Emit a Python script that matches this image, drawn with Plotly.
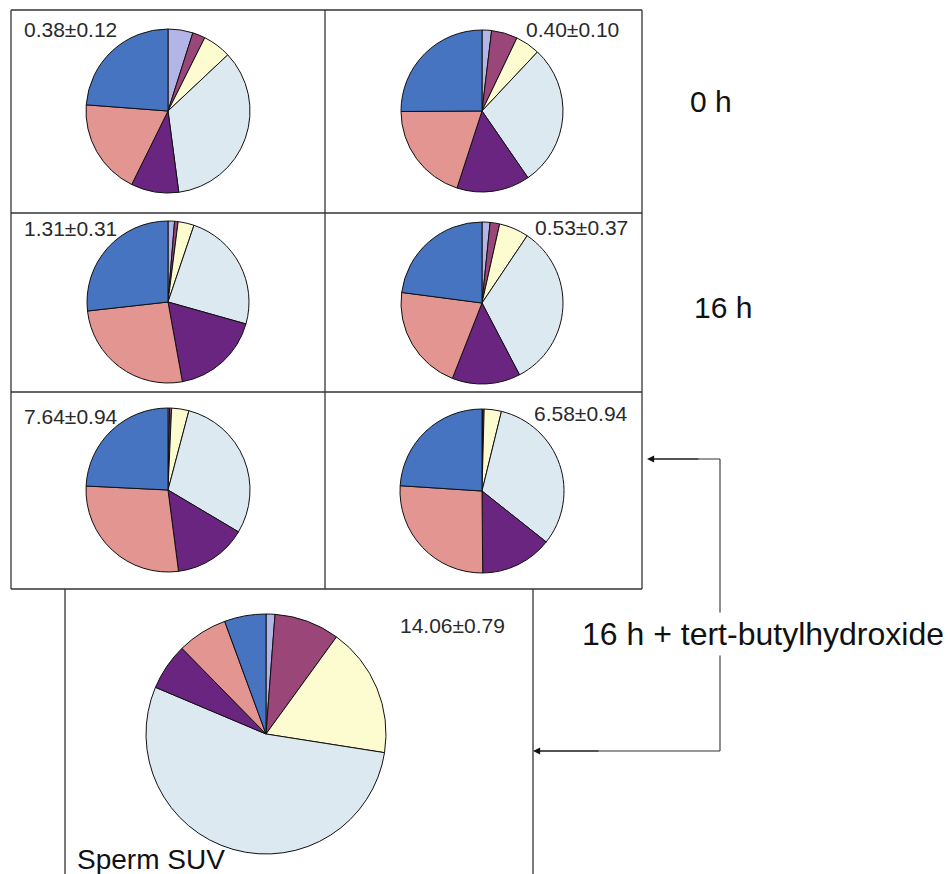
import plotly.graph_objects as go

W, H = 950, 874

# ---- data (percent of each fraction, clockwise from 12 o'clock) ----
fractions = ["F1", "F2", "F3", "F4", "F5", "F6", "F7"]
colors = ["#b3b5e6", "#9a4679", "#fdfbd0", "#dde9f0", "#6a2580", "#e29591", "#4674c1"]

v_0h_left = [4.9, 2.5, 5.6, 34.9, 9.4, 18.9, 23.8]
v_0h_right = [1.9, 5.2, 4.9, 28.4, 14.6, 19.9, 25.1]
v_16h_left = [1.3, 0.7, 3.2, 24.2, 17.8, 26.1, 26.8]
v_16h_right = [1.6, 1.9, 5.9, 32.9, 13.6, 21.1, 22.9]
v_tbh_left = [0.3, 0.4, 3.4, 29.4, 14.4, 27.8, 24.2]
v_tbh_right = [0.14, 0.28, 3.4, 31.9, 14.2, 26.2, 24.0]
v_suv = [1.2, 8.8, 17.5, 53.9, 6.3, 6.75, 5.6]

value_labels = ["0.38±0.12", "0.40±0.10", "1.31±0.31", "0.53±0.37",
                "7.64±0.94", "6.58±0.94", "14.06±0.79"]
row_labels = ["0 h", "16 h", "16 h + tert-butylhydroxide"]
suv_label = "Sperm SUV"

# ---- layout (pixel positions) ----
pies = [
    (v_0h_left, 168, 111, 82),
    (v_0h_right, 482, 111, 81),
    (v_16h_left, 168, 302, 81),
    (v_16h_right, 482, 303, 81),
    (v_tbh_left, 168, 490, 82),
    (v_tbh_right, 482, 491, 82),
    (v_suv, 266, 734, 120),
]

fig = go.Figure()
for vals, cx, cy, r in pies:
    fig.add_trace(go.Pie(
        labels=fractions, values=vals, sort=False, direction="clockwise",
        rotation=0, textinfo="none", hoverinfo="label+percent",
        marker=dict(colors=colors, line=dict(color="#111111", width=1)),
        domain=dict(x=[(cx - r) / W, (cx + r) / W],
                    y=[1 - (cy + r) / H, 1 - (cy - r) / H]),
        showlegend=False,
    ))

line_c = "#333333"
shapes = []
def seg(x0, y0, x1, y1, w=1.3):
    shapes.append(dict(type="line", xref="x", yref="y", x0=x0, y0=y0, x1=x1, y1=y1,
                       line=dict(color=line_c, width=w)))

# grid frame
seg(11, 10, 642, 10); seg(11, 589, 642, 589)
seg(11, 10, 11, 589); seg(642, 10, 642, 589); seg(325, 10, 325, 589)
seg(11, 213, 642, 213); seg(11, 392, 642, 392)
# lower box
seg(65, 589, 65, 874); seg(533, 589, 533, 874)
# connector
seg(720, 459, 720, 751, 1.1)
seg(720, 459, 652, 459, 1.1)
seg(720, 751, 538, 751, 1.1)

ann = []
font_num = dict(family="Liberation Sans, Arial, sans-serif", size=21, color="#2a2a2a")
pos_num = [(22, 29, "left"), (621, 29, "right"), (22, 228, "left"), (630, 227, "right"),
           (22, 416, "left"), (630, 413, "right"), (398, 625, "left")]
for txt, (x, y, al) in zip(value_labels, pos_num):
    ann.append(dict(x=x, y=y, xref="x", yref="y", text=txt, showarrow=False,
                    xanchor=al, yanchor="middle", font=font_num))

font_big = dict(family="Liberation Sans, Arial, sans-serif", size=30, color="#111111")
ann.append(dict(x=688, y=101, xref="x", yref="y", text=row_labels[0], showarrow=False,
                xanchor="left", yanchor="middle", font=font_big))
ann.append(dict(x=692, y=307, xref="x", yref="y", text=row_labels[1], showarrow=False,
                xanchor="left", yanchor="middle", font=font_big))
ann.append(dict(x=578, y=634, xref="x", yref="y", text=row_labels[2], showarrow=False,
                xanchor="left", yanchor="middle", bgcolor="white", borderpad=3,
                font=dict(family="Liberation Sans, Arial, sans-serif", size=32, color="#111111")))
ann.append(dict(x=75, y=859, xref="x", yref="y", text=suv_label, showarrow=False,
                xanchor="left", yanchor="middle",
                font=dict(family="Liberation Sans, Arial, sans-serif", size=28, color="#111111")))

# arrowheads
for (hx, hy, tx) in [(647, 459, 700), (533, 751, 600)]:
    ann.append(dict(x=hx, y=hy, ax=tx, ay=hy, xref="x", yref="y", axref="x", ayref="y",
                    text="", showarrow=True, arrowhead=2, arrowsize=1.3, arrowwidth=1.1,
                    arrowcolor="#111111"))

fig.update_layout(
    width=W, height=H, margin=dict(l=0, r=0, t=0, b=0),
    paper_bgcolor="white", plot_bgcolor="white",
    xaxis=dict(range=[0, W], visible=False, fixedrange=True),
    yaxis=dict(range=[H, 0], visible=False, fixedrange=True),
    shapes=shapes, annotations=ann,
)

fig.write_html("out.html", config={"displayModeBar": False},
               post_script="document.body.style.margin='0px';document.body.style.overflow='hidden';")
